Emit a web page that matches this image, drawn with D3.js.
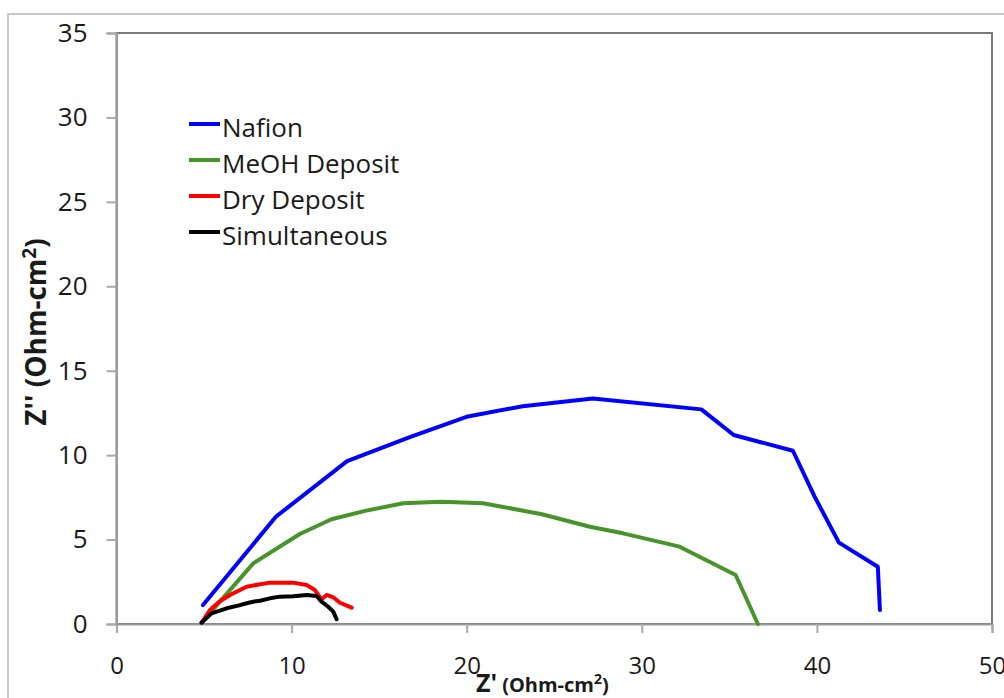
<!DOCTYPE html>
<html>
<head>
<meta charset="utf-8">
<script src="https://cdn.jsdelivr.net/npm/d3@7"></script>
<style>
  html, body { margin: 0; padding: 0; background: #fff; }
  svg { display: block; }
  text { font-family: "Open Sans", Lato, sans-serif; fill: #1a1a1a; }
</style>
</head>
<body>
<svg id="chart" width="1004" height="698"></svg>
<script>
// Nyquist impedance spectra: Z' (real) vs Z'' (imaginary), Ohm-cm²
const seriesNames = ["Nafion", "MeOH Deposit", "Dry Deposit", "Simultaneous"];
const seriesColors = ["#0000ff", "#47942a", "#ff0000", "#000000"];

const nafionZre = [4.94, 9.1, 13.17, 16.75, 19.99, 23.2, 27.2, 33.4, 35.25, 38.63, 39.87, 41.26, 43.48, 43.6];
const nafionZim = [1.12, 6.35, 9.65, 11.07, 12.27, 12.9, 13.36, 12.71, 11.19, 10.26, 7.54, 4.82, 3.39, 0.83];

const meohZre = [4.86, 7.81, 10.47, 12.28, 14.2, 16.37, 18.56, 20.94, 24.3, 27.03, 28.93, 32.16, 35.36, 36.63];
const meohZim = [0.08, 3.59, 5.33, 6.2, 6.7, 7.15, 7.24, 7.15, 6.5, 5.76, 5.37, 4.58, 2.9, 0.0];

const dryZre = [4.86, 5.34, 5.9, 6.48, 7.43, 8.76, 10.09, 10.86, 11.33, 11.71, 12.0, 12.38, 12.76, 13.43];
const dryZim = [0.08, 0.83, 1.35, 1.72, 2.21, 2.45, 2.45, 2.31, 2.01, 1.46, 1.72, 1.58, 1.26, 0.97];

const simZre = [4.86, 5.43, 6.29, 7.0, 7.43, 7.8, 8.19, 8.76, 9.33, 10.1, 10.86, 11.43, 11.71, 12.09, 12.38, 12.57];
const simZim = [0.08, 0.63, 0.93, 1.1, 1.23, 1.32, 1.38, 1.52, 1.62, 1.64, 1.72, 1.66, 1.32, 1.02, 0.73, 0.28];

const xTicks = [0, 10, 20, 30, 40, 50];
const yTicks = [0, 5, 10, 15, 20, 25, 30, 35];

const series = [
  { name: seriesNames[0], color: seriesColors[0], x: nafionZre, y: nafionZim },
  { name: seriesNames[1], color: seriesColors[1], x: meohZre, y: meohZim },
  { name: seriesNames[2], color: seriesColors[2], x: dryZre, y: dryZim },
  { name: seriesNames[3], color: seriesColors[3], x: simZre, y: simZim }
];

const svg = d3.select("#chart");

// outer chart frame
svg.append("rect")
  .attr("x", 8).attr("y", 14).attr("width", 1010).attr("height", 700)
  .attr("fill", "none").attr("stroke", "#c8c8c8").attr("stroke-width", 2);

const plotLeft = 116.5, plotRight = 992, plotTop = 33, plotBottom = 624;

const x = d3.scaleLinear().domain([0, 50]).range([plotLeft, plotRight]);
const y = d3.scaleLinear().domain([0, 35]).range([plotBottom, plotTop]);

// plot area border
svg.append("rect")
  .attr("x", plotLeft).attr("y", plotTop)
  .attr("width", plotRight - plotLeft).attr("height", plotBottom - plotTop)
  .attr("fill", "none").attr("stroke", "#7a7a7a").attr("stroke-width", 2);

// axes
const xAxis = svg.append("g")
  .attr("transform", `translate(0,${plotBottom})`)
  .call(d3.axisBottom(x).tickValues(xTicks).tickSize(9).tickPadding(24).tickFormat(d3.format("d")));
const yAxis = svg.append("g")
  .attr("transform", `translate(${plotLeft},0)`)
  .call(d3.axisLeft(y).tickValues(yTicks).tickSize(10).tickPadding(19).tickFormat(d3.format("d")));

[xAxis, yAxis].forEach(g => {
  g.select(".domain").attr("stroke", "#9a9a9a").attr("stroke-width", 2);
  g.selectAll(".tick line").attr("stroke", "#a8a8a8").attr("stroke-width", 2);
  g.selectAll(".tick text")
    .style("font-family", "'Open Sans', Lato, sans-serif")
    .attr("fill", "#1a1a1a");
});
xAxis.selectAll(".tick text").style("font-size", "24px");
yAxis.selectAll(".tick text").style("font-size", "26px");

// series lines
const line = d3.line().x(d => x(d[0])).y(d => y(d[1]));
series.forEach(s => {
  const pts = s.x.map((v, i) => [v, s.y[i]]);
  svg.append("path")
    .datum(pts)
    .attr("d", line)
    .attr("fill", "none")
    .attr("stroke", s.color)
    .attr("stroke-width", 4)
    .attr("stroke-linejoin", "round")
    .attr("stroke-linecap", "round");
});

// legend
const legend = svg.append("g").attr("transform", "translate(189,124)");
series.forEach((s, i) => {
  const row = legend.append("g").attr("transform", `translate(0,${i * 36})`);
  row.append("line")
    .attr("x1", 0).attr("x2", 31).attr("y1", 0).attr("y2", 0)
    .attr("stroke", s.color).attr("stroke-width", 4);
  row.append("text")
    .attr("x", 33).attr("y", 13)
    .style("font-size", "26px")
    .text(s.name);
});

// y axis title
const yTitle = svg.append("text")
  .attr("transform", "translate(46,332) rotate(-90)")
  .attr("text-anchor", "middle")
  .style("font-size", "28px").style("font-weight", "bold");
yTitle.append("tspan").text("Z'' (Ohm-cm");
yTitle.append("tspan").attr("dy", -10).style("font-size", "19px").text("2");
yTitle.append("tspan").attr("dy", 10).text(")");

// x axis title
const xTitle = svg.append("text")
  .attr("x", 476).attr("y", 692)
  .style("font-weight", "bold");
xTitle.append("tspan").style("font-size", "25px").text("Z'");
xTitle.append("tspan").attr("dx", 5).style("font-size", "20px").text("(Ohm-cm");
xTitle.append("tspan").attr("dy", -8).style("font-size", "14px").text("2");
xTitle.append("tspan").attr("dy", 8).style("font-size", "20px").text(")");
</script>
</body>
</html>
